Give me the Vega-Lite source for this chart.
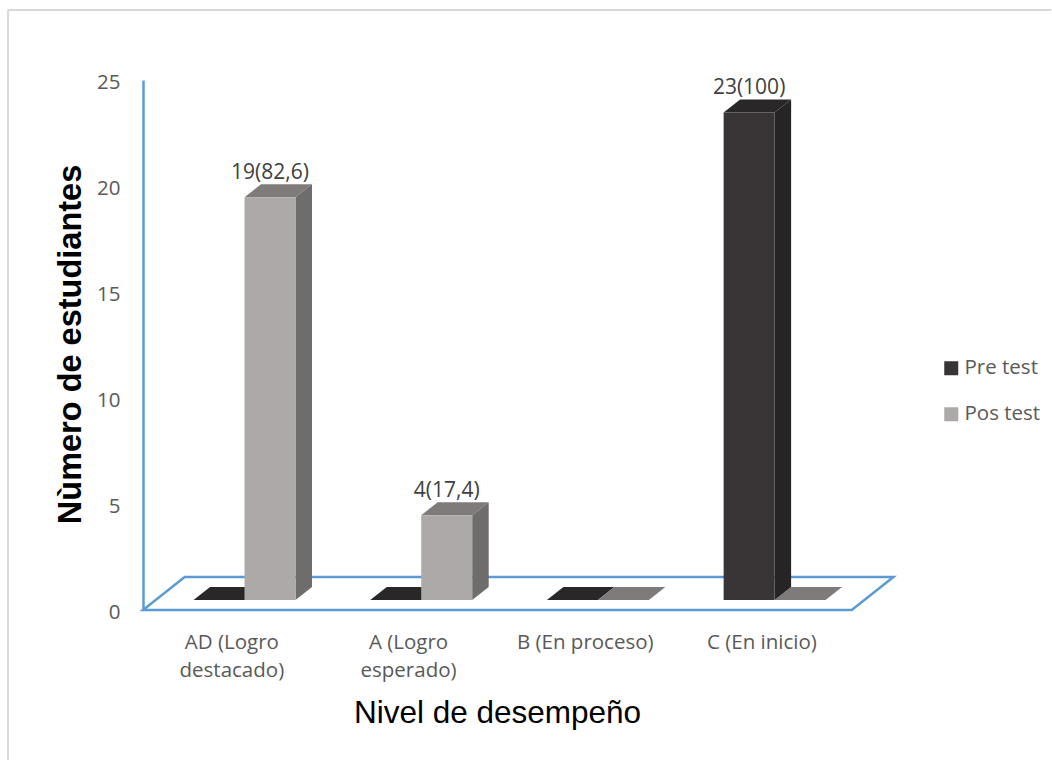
{
"$schema":"https://vega.github.io/schema/vega-lite/v6.json",
"width":753,"height":530,"autosize":{"type":"none"},
"padding":{"left":143,"top":80,"right":156,"bottom":150},
"background":"white",
"config":{"view":{"stroke":null},"font":"Open Sans"},
"datasets":{"barras":[
{"nivel":"AD (Logro destacado)","serie":"Pre test","valor":0,"etiqueta":""},
{"nivel":"AD (Logro destacado)","serie":"Pos test","valor":19,"etiqueta":"19(82,6)"},
{"nivel":"A (Logro esperado)","serie":"Pre test","valor":0,"etiqueta":""},
{"nivel":"A (Logro esperado)","serie":"Pos test","valor":4,"etiqueta":"4(17,4)"},
{"nivel":"B (En proceso)","serie":"Pre test","valor":0,"etiqueta":""},
{"nivel":"B (En proceso)","serie":"Pos test","valor":0,"etiqueta":""},
{"nivel":"C (En inicio)","serie":"Pre test","valor":23,"etiqueta":"23(100)"},
{"nivel":"C (En inicio)","serie":"Pos test","valor":0,"etiqueta":""}
]},
"data":{"name":"barras"},
"transform":[
{"calculate":"indexof(['AD (Logro destacado)','A (Logro esperado)','B (En proceso)','C (En inicio)'],datum.nivel)","as":"i"},
{"calculate":"datum.serie==='Pre test'?0:1","as":"s"},
{"calculate":"datum.i+0.286+datum.s*0.2885","as":"xi"},
{"calculate":"datum.xi+0.2885","as":"xd"},
{"calculate":"datum.xi+0.14425","as":"xc"},
{"calculate":"0.472","as":"base"},
{"calculate":"datum.base+datum.valor","as":"tope"},
{"calculate":"datum.nivel+datum.serie","as":"clave"},
{"calculate":"[0,1]","as":"lado"},
{"flatten":["lado"]},
{"calculate":"datum.xi+datum.lado*0.0934","as":"tx1"},
{"calculate":"datum.xd+datum.lado*0.0934","as":"tx2"},
{"calculate":"datum.tope+datum.lado*0.613","as":"ty"},
{"calculate":"datum.base+datum.lado*0.613","as":"sy1"}
],
"layer":[
{"data":{"values":[{"borde":"arriba"}]},
 "mark":{"type":"rule","stroke":"#d9d9d9","strokeWidth":2,"clip":false},
 "encoding":{"x":{"datum":-0.764,"type":"quantitative","scale":{"domain":[0,4.2615],"nice":false,"zero":false}},
 "x2":{"datum":5.14},
 "y":{"datum":28.3,"type":"quantitative","scale":{"domain":[0,25],"nice":false}}}},
{"data":{"values":[{"borde":"izquierda"}]},
 "mark":{"type":"rule","stroke":"#d9d9d9","strokeWidth":2,"clip":false},
 "encoding":{"x":{"datum":-0.764,"type":"quantitative","scale":{"domain":[0,4.2615],"nice":false,"zero":false}},
 "y":{"datum":28.3,"type":"quantitative","scale":{"domain":[0,25],"nice":false}},
 "y2":{"datum":-7.1}}},
{"data":{"values":[{"lado":0},{"lado":1}]},
 "transform":[{"calculate":"datum.lado*0.236","as":"p1"},{"calculate":"4.011+datum.lado*0.236","as":"p2"},{"calculate":"datum.lado*1.557","as":"py"}],
 "mark":{"type":"area","orient":"horizontal","fill":"transparent","stroke":"#5b9bd5","strokeWidth":2.5},
 "encoding":{"y":{"field":"py","type":"quantitative","stack":null,"scale":{"domain":[0,25],"nice":false}},
 "x":{"field":"p1","type":"quantitative","scale":{"domain":[0,4.2615],"nice":false,"zero":false}},
 "x2":{"field":"p2"}}},
{"mark":{"type":"area","orient":"horizontal"},
 "encoding":{"y":{"field":"ty","type":"quantitative","stack":null,"scale":{"domain":[0,25],"nice":false}},
 "x":{"field":"tx1","type":"quantitative","scale":{"domain":[0,4.2615],"nice":false,"zero":false}},
 "x2":{"field":"tx2"},
 "detail":{"field":"clave"},
 "color":{"condition":{"test":"datum.s===0","value":"#2a2728"},"value":"#7f7b7a"}}},
{"transform":[{"calculate":"datum.xd+datum.lado*0.0934","as":"sx"},{"calculate":"datum.tope+datum.lado*0.613","as":"sy2"},{"filter":"datum.valor>0"}],
 "mark":{"type":"area","orient":"vertical"},
 "encoding":{"x":{"field":"sx","type":"quantitative","scale":{"domain":[0,4.2615],"nice":false,"zero":false}},
 "y":{"field":"sy1","type":"quantitative","stack":null,"scale":{"domain":[0,25],"nice":false}},
 "y2":{"field":"sy2"},
 "detail":{"field":"clave"},
 "color":{"condition":{"test":"datum.s===0","value":"#272425"},"value":"#6f6c6c"}}},
{"transform":[{"filter":"datum.lado===0"}],
 "mark":{"type":"rect"},
 "encoding":{
 "x":{"field":"xi","type":"quantitative","scale":{"domain":[0,4.2615],"nice":false,"zero":false},
  "axis":{"values":[0.5,1.5,2.5,3.5],"grid":false,"domain":false,"ticks":false,"labelFont":"Open Sans","labelFontSize":20.5,"labelColor":"#595959","labelPadding":32,"labelLineHeight":28,"labelBaseline":"middle","labelOverlap":false,"labelBound":false,"labelFlush":false,
  "labelExpr":"[['AD (Logro','destacado)'],['A (Logro','esperado)'],['B (En proceso)'],['C (En inicio)']][floor(datum.value)]",
  "title":"Nivel de desempeño","titleFont":"Liberation Sans","titleFontSize":31.5,"titleFontWeight":"normal","titleColor":"#000000","titleX":354,"titleY":112,"titleBaseline":"alphabetic"}},
 "x2":{"field":"xd"},
 "y":{"field":"base","type":"quantitative","scale":{"domain":[0,25],"nice":false},
  "axis":{"values":[0,5,10,15,20,25],"grid":false,"domain":true,"domainColor":"#5b9bd5","domainWidth":2.5,"ticks":false,"labelFont":"Open Sans","labelFontSize":20.5,"labelColor":"#595959","labelPadding":23,"labelOffset":2,
  "title":"Nùmero de estudiantes","titleFont":"Liberation Sans","titleFontSize":32.5,"titleFontWeight":"bold","titleColor":"#000000","titleX":-73,"titleY":264,"titleAngle":-90,"titleBaseline":"middle"}},
 "y2":{"field":"tope"},
 "color":{"field":"serie","type":"nominal","scale":{"domain":["Pre test","Pos test"],"range":["#393536","#ada9a8"]},
  "legend":{"orient":"none","legendX":798,"legendY":278,"title":null,"symbolType":"square","symbolSize":196,"symbolStrokeWidth":0,"labelFont":"Open Sans","labelFontSize":20.5,"labelColor":"#595959","rowPadding":25,"labelOffset":3,"padding":0}}}},
{"transform":[{"filter":"datum.lado===0 && datum.valor>0"}],
 "mark":{"type":"text","font":"Open Sans","fontSize":21,"color":"#404040","baseline":"alphabetic","dy":-18},
 "encoding":{"x":{"field":"xc","type":"quantitative","scale":{"domain":[0,4.2615],"nice":false,"zero":false}},
 "y":{"field":"tope","type":"quantitative","scale":{"domain":[0,25],"nice":false}},
 "text":{"field":"etiqueta"}}}
]
}
